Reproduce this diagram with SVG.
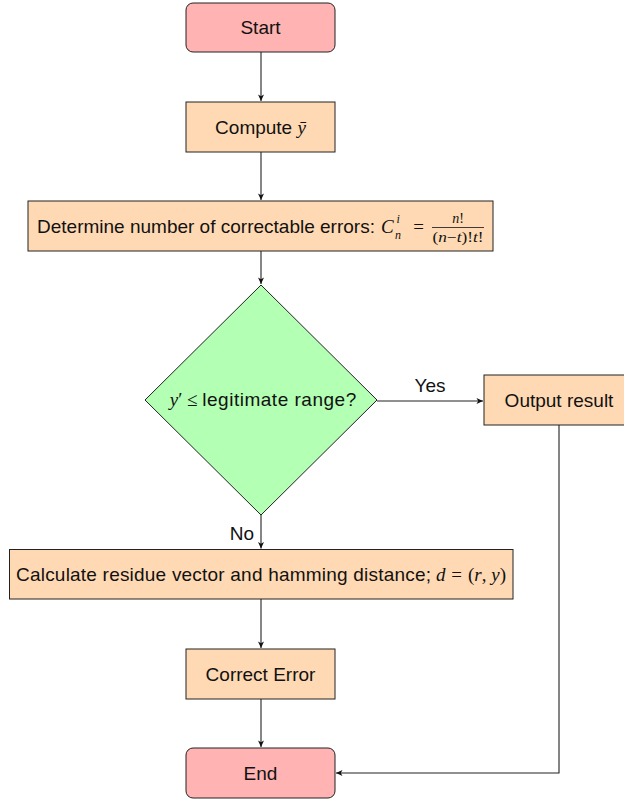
<svg xmlns="http://www.w3.org/2000/svg" width="624" height="801" viewBox="0 0 624 801">
<defs>
<marker id="arr" markerWidth="8" markerHeight="8" refX="7" refY="4" orient="auto" markerUnits="userSpaceOnUse">
<path d="M0.5,1 L7,4 L0.5,7 L2.2,4 z" fill="#111"/>
</marker>
<style>
.term{fill:#ffb3b3;stroke:#222;stroke-width:1}
.proc{fill:#ffd9b3;stroke:#222;stroke-width:1}
.dec{fill:#b3ffb3;stroke:#222;stroke-width:1}
.t{font-family:"Liberation Sans",Arial,sans-serif;font-size:19px;fill:#111}
.s{font-size:12px}
.f{font-size:14px}
.m{font-family:"Liberation Serif","Times New Roman",serif;font-style:italic}
.r{font-family:"Liberation Serif","Times New Roman",serif;font-style:normal}
.c{text-anchor:middle}
.e{fill:none;stroke:#222;stroke-width:1.1}
</style>
</defs>
<g id="start"><rect class="term" x="186" y="3" width="149" height="49" rx="7"/><text class="t c" x="260.5" y="34">Start</text></g>
<g id="compute"><rect class="proc" x="186" y="102" width="149" height="50"/><text class="t c" x="260.5" y="134">Compute <tspan class="m">ȳ</tspan></text></g>
<g id="determine"><rect class="proc" x="28" y="201" width="465" height="50"/>
<text class="t" x="37" y="233">Determine number of correctable errors:</text>
<text class="t m" x="381" y="233">C</text>
<text class="t m s" x="395" y="239">n</text>
<text class="t m s" x="396.5" y="223">i</text>
<text class="t r c" x="418.5" y="233">=</text>
<text class="t m c f" x="458" y="223">n<tspan class="r">!</tspan></text>
<line x1="432" y1="227.5" x2="484" y2="227.5" stroke="#111" stroke-width="0.8"/>
<text class="t m c f" x="458" y="242" textLength="51" lengthAdjust="spacingAndGlyphs"><tspan class="r">(</tspan>n<tspan class="r">−</tspan>t<tspan class="r">)!</tspan>t<tspan class="r">!</tspan></text>
</g>
<g id="decision"><polygon class="dec" points="261,285 377,400 261,515 145,400"/><text class="t c" x="263" y="406"><tspan class="m">y</tspan><tspan class="r">′ ≤ </tspan><tspan textLength="154" lengthAdjust="spacing">legitimate range?</tspan></text></g>
<g id="output"><rect class="proc" x="484" y="375" width="150" height="50"/><text class="t c" x="559" y="407">Output result</text></g>
<g id="calculate"><rect class="proc" x="9.5" y="549.5" width="503.5" height="49.5"/>
<text class="t" x="16" y="581" textLength="415" lengthAdjust="spacing">Calculate residue vector and hamming distance;</text>
<text class="t m" x="436" y="581">d</text>
<text class="t r c" x="456.5" y="581">=</text>
<text class="t r" x="468" y="581">(<tspan class="m">r</tspan>, <tspan class="m">y</tspan>)</text>
</g>
<g id="correct"><rect class="proc" x="186" y="649" width="149" height="50"/><text class="t c" x="260.5" y="681">Correct Error</text></g>
<g id="end"><rect class="term" x="186" y="748" width="149" height="50" rx="7"/><text class="t c" x="260.5" y="780">End</text></g>
<g id="connectors">
<line class="e" x1="261" y1="52" x2="261" y2="101" marker-end="url(#arr)"/>
<line class="e" x1="261" y1="152" x2="261" y2="200" marker-end="url(#arr)"/>
<line class="e" x1="261" y1="251" x2="261" y2="284" marker-end="url(#arr)"/>
<line class="e" x1="377" y1="401" x2="483" y2="401" marker-end="url(#arr)"/>
<text class="t c" x="430" y="392">Yes</text>
<line class="e" x1="261" y1="515" x2="261" y2="548.5" marker-end="url(#arr)"/>
<text class="t" x="254" y="540" text-anchor="end">No</text>
<line class="e" x1="261" y1="599" x2="261" y2="648" marker-end="url(#arr)"/>
<line class="e" x1="261" y1="699" x2="261" y2="747" marker-end="url(#arr)"/>
<polyline class="e" points="559,425 559,773 336,773" marker-end="url(#arr)"/>
</g>
</svg>
